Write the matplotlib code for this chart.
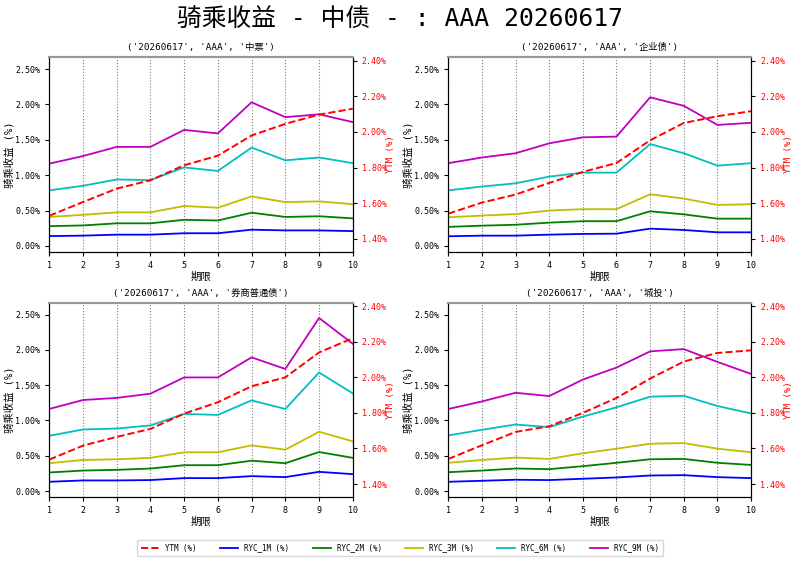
import matplotlib
matplotlib.use("Agg")
import matplotlib.pyplot as plt
from matplotlib import font_manager
from matplotlib.ticker import FuncFormatter, MultipleLocator

# reference uses a half-width latin CJK font (SimHei look)
names = {f.name for f in font_manager.fontManager.ttflist}
if 'Noto Sans Mono CJK SC' in names:
    plt.rcParams['font.family'] = ['Noto Sans Mono CJK SC', 'DejaVu Sans']
    k = 1.0
else:
    plt.rcParams['font.family'] = ['DejaVu Sans Mono', 'Noto Sans CJK SC']
    k = 0.86
plt.rcParams['axes.unicode_minus'] = False

# 期限 1..10
terms = [1, 2, 3, 4, 5, 6, 7, 8, 9, 10]
sectors = ['中票', '企业债', '券商普通债', '城投']

# YTM (%) per sector
ytm_zp = [1.53, 1.607, 1.682, 1.729, 1.813, 1.867, 1.98, 2.045, 2.097, 2.13]
ytm_qy = [1.542, 1.604, 1.649, 1.714, 1.776, 1.826, 1.953, 2.05, 2.088, 2.116]
ytm_qs = [1.537, 1.616, 1.665, 1.71, 1.796, 1.86, 1.95, 2.00, 2.14, 2.22]
ytm_ct = [1.541, 1.618, 1.693, 1.725, 1.80, 1.884, 1.993, 2.089, 2.137, 2.152]

# 骑乘收益 RYC_1M (%)
ryc1_zp = [0.14, 0.146, 0.16, 0.16, 0.18, 0.18, 0.23, 0.22, 0.22, 0.21]
ryc1_qy = [0.137, 0.146, 0.146, 0.16, 0.17, 0.174, 0.245, 0.226, 0.193, 0.193]
ryc1_qs = [0.131, 0.15, 0.15, 0.155, 0.183, 0.183, 0.211, 0.197, 0.272, 0.239]
ryc1_ct = [0.131, 0.145, 0.16, 0.155, 0.174, 0.192, 0.22, 0.225, 0.197, 0.183]

# RYC_2M (%)
ryc2_zp = [0.28, 0.29, 0.32, 0.32, 0.37, 0.36, 0.47, 0.41, 0.42, 0.39]
ryc2_qy = [0.27, 0.287, 0.30, 0.33, 0.35, 0.35, 0.49, 0.447, 0.386, 0.386]
ryc2_qs = [0.263, 0.29, 0.30, 0.319, 0.366, 0.366, 0.43, 0.394, 0.553, 0.47]
ryc2_ct = [0.267, 0.29, 0.319, 0.31, 0.352, 0.40, 0.45, 0.455, 0.40, 0.37]

# RYC_3M (%)
ryc3_zp = [0.41, 0.44, 0.475, 0.475, 0.565, 0.54, 0.70, 0.62, 0.63, 0.59]
ryc3_qy = [0.405, 0.43, 0.45, 0.50, 0.52, 0.52, 0.73, 0.67, 0.58, 0.59]
ryc3_qs = [0.394, 0.44, 0.45, 0.47, 0.549, 0.549, 0.647, 0.586, 0.84, 0.704]
ryc3_ct = [0.40, 0.44, 0.474, 0.455, 0.535, 0.60, 0.67, 0.68, 0.60, 0.55]

# RYC_6M (%)
ryc6_zp = [0.786, 0.85, 0.94, 0.93, 1.11, 1.06, 1.39, 1.21, 1.25, 1.17]
ryc6_qy = [0.786, 0.84, 0.885, 0.98, 1.036, 1.036, 1.44, 1.31, 1.135, 1.17]
ryc6_qs = [0.783, 0.872, 0.886, 0.93, 1.093, 1.079, 1.285, 1.163, 1.68, 1.384]
ryc6_ct = [0.788, 0.868, 0.943, 0.905, 1.055, 1.187, 1.337, 1.35, 1.205, 1.10]

# RYC_9M (%)
ryc9_zp = [1.163, 1.27, 1.40, 1.40, 1.64, 1.59, 2.03, 1.82, 1.86, 1.75]
ryc9_qy = [1.17, 1.25, 1.31, 1.45, 1.535, 1.545, 2.10, 1.98, 1.71, 1.74]
ryc9_qs = [1.163, 1.29, 1.32, 1.38, 1.61, 1.61, 1.895, 1.73, 2.453, 2.087]
ryc9_ct = [1.163, 1.27, 1.393, 1.346, 1.58, 1.75, 1.98, 2.012, 1.83, 1.66]

ytm_all = [ytm_zp, ytm_qy, ytm_qs, ytm_ct]
ryc_all = [
    [ryc1_zp, ryc2_zp, ryc3_zp, ryc6_zp, ryc9_zp],
    [ryc1_qy, ryc2_qy, ryc3_qy, ryc6_qy, ryc9_qy],
    [ryc1_qs, ryc2_qs, ryc3_qs, ryc6_qs, ryc9_qs],
    [ryc1_ct, ryc2_ct, ryc3_ct, ryc6_ct, ryc9_ct],
]
ryc_names = ['RYC_1M (%)', 'RYC_2M (%)', 'RYC_3M (%)', 'RYC_6M (%)', 'RYC_9M (%)']
ryc_colors = ['b', 'g', 'y', 'c', 'm']

pct = FuncFormatter(lambda v, _: '%.2f%%' % v)

fig = plt.figure(figsize=(8, 5.63), dpi=100)
# axes boxes [left, bottom, width, height] in figure fraction
boxes = [
    [0.0615, 0.5524, 0.3795, 0.3464],
    [0.5604, 0.5524, 0.3784, 0.3464],
    [0.0615, 0.1172, 0.3795, 0.3452],
    [0.5604, 0.1172, 0.3784, 0.3452],
]

handles = []
for i, sector in enumerate(sectors):
    ax = fig.add_axes(boxes[i])
    ax2 = ax.twinx()

    h_ytm, = ax2.plot(terms, ytm_all[i], 'r--', lw=1.4, label='YTM (%)')
    hs = []
    for vals, name, c in zip(ryc_all[i], ryc_names, ryc_colors):
        h, = ax.plot(terms, vals, color=c, lw=1.3, label=name)
        hs.append(h)
    if i == 0:
        handles = [h_ytm] + hs

    ax.set_xlim(1, 10)
    ax.set_xticks(terms)
    ax.set_ylim(-0.085, 2.67)
    ax.yaxis.set_major_locator(MultipleLocator(0.5))
    ax.yaxis.set_major_formatter(pct)
    ax2.set_ylim(1.327, 2.42)
    ax2.yaxis.set_major_locator(MultipleLocator(0.2))
    ax2.yaxis.set_major_formatter(pct)

    ax.grid(axis='x', linestyle=':', color='grey', lw=0.8)
    ax.tick_params(labelsize=7 * k, length=3)
    ax2.tick_params(labelsize=7 * k, length=3, labelcolor='r')
    ax.set_xlabel('期限', fontsize=7.5, labelpad=1)
    ax.set_ylabel('骑乘收益 (%)', fontsize=7.5)
    ax.yaxis.set_label_coords(-0.114, 0.5)
    ax2.set_ylabel('YTM (%)', fontsize=7.5 * k, color='r')
    ax2.yaxis.set_label_coords(1.108, 0.5)
    ax.set_title(str(('20260617', 'AAA', sector)), fontsize=7.8 * k, pad=5)
    for a in (ax, ax2):
        a.spines['top'].set_color('#999999')
        a.spines['top'].set_linewidth(1.5)

fig.text(0.5, 0.9645, '骑乘收益 - 中债 - : AAA 20260617', fontsize=20.7 * k,
         ha='center', va='center')
fig.legend(handles=handles, loc='center', bbox_to_anchor=(0.5, 0.0266),
           ncol=6, fontsize=6.3 * k, frameon=True, columnspacing=3.1,
           handlelength=2.4, handletextpad=0.8, borderpad=0.5)

fig.savefig('out.png', dpi=100)
